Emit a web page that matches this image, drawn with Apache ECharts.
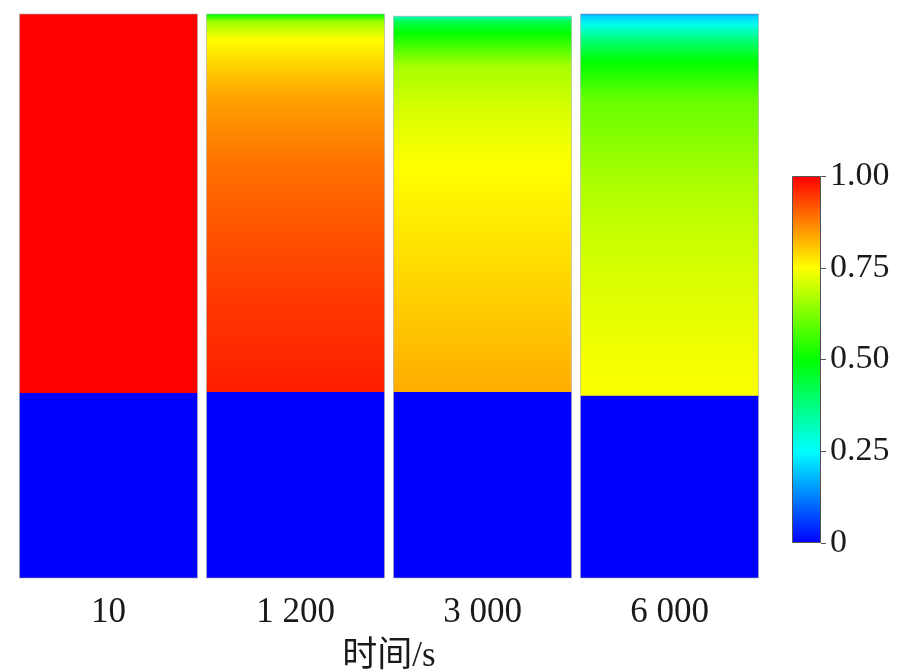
<!DOCTYPE html>
<html>
<head>
<meta charset="utf-8">
<script src="https://cdn.jsdelivr.net/npm/echarts@6/dist/echarts.min.js"></script>
<style>html,body{margin:0;padding:0;background:#fff}#c{width:898px;height:672px}</style>
</head>
<body>
<div id="c"></div>
<script>
// ---- data ----
const timeLabels = ['10', '1 200', '3 000', '6 000'];
const axisName = '时间/s';
// relative height (0 = bottom, 100 = top) of sampled points, top to interface
const col1Heights = [100, 32.8];
const col1Values  = [1.0, 1.0];
const col2Heights = [100, 99.6, 98.6, 95.4, 90.1, 84.8, 72.9, 61.2, 49.3, 34.6, 33.0];
const col2Values  = [0.47, 0.52, 0.65, 0.75, 0.80, 0.843, 0.89, 0.92, 0.945, 0.969, 0.97];
const col3Heights = [99.6, 98.6, 96.6, 90.6, 81.2, 72.9, 55.1, 34.6, 33.0];
const col3Values  = [0.30, 0.42, 0.50, 0.665, 0.72, 0.75, 0.785, 0.827, 0.83];
const col4Heights = [100, 99.6, 98.0, 95.4, 91.5, 84.8, 70.0, 55.1, 37.4, 32.4];
const col4Values  = [0.10, 0.20, 0.27, 0.38, 0.50, 0.60, 0.67, 0.71, 0.74, 0.745];
const lowerValue = 0;   // value in the lower (blue) layer
const scaleTicks = [0, 0.25, 0.5, 0.75, 1.0];

const heights = [col1Heights, col2Heights, col3Heights, col4Heights];
const values = [col1Values, col2Values, col3Values, col4Values];

// rainbow colour map
const cmap = [[0, [0, 0, 255]], [0.25, [0, 255, 255]], [0.5, [0, 255, 0]], [0.75, [255, 255, 0]], [1, [255, 0, 0]]];
function colorOf(v) {
  v = Math.max(0, Math.min(1, v));
  for (let i = 1; i < cmap.length; i++) {
    if (v <= cmap[i][0]) {
      const a = cmap[i - 1], b = cmap[i];
      const t = (v - a[0]) / (b[0] - a[0]);
      const c = a[1].map((x, k) => Math.round(x + (b[1][k] - x) * t));
      return 'rgb(' + c.join(',') + ')';
    }
  }
  return 'rgb(255,0,0)';
}

const FONT = '"Liberation Serif", "Times New Roman", "Noto Sans CJK SC", serif';
const chart = echarts.init(document.getElementById('c'));

chart.setOption({
  backgroundColor: '#fff',
  animation: false,
  grid: [
    { left: 15, right: 135, top: 14, bottom: 94, outerBoundsMode: 'none', containLabel: false },
    { left: 792, width: 29, top: 176, height: 367, outerBoundsMode: 'none', containLabel: false }
  ],
  xAxis: [
    {
      gridIndex: 0, type: 'category', data: timeLabels,
      axisLine: { show: false }, axisTick: { show: false },
      axisLabel: { fontFamily: FONT, fontSize: 35, color: '#1a1a1a', margin: 17 },
      name: axisName, nameLocation: 'middle', nameGap: 61,
      nameTextStyle: { fontFamily: FONT, fontSize: 35, color: '#1a1a1a' }
    },
    { gridIndex: 1, type: 'category', data: ['s'], show: false }
  ],
  yAxis: [
    { gridIndex: 0, type: 'value', min: 0, max: 100, show: false },
    {
      gridIndex: 1, type: 'value', min: 0, max: 1, interval: 0.25, position: 'right',
      axisLine: { show: false },
      axisTick: { show: true, length: 5, lineStyle: { color: '#555' } },
      splitLine: { show: false },
      axisLabel: {
        fontFamily: FONT, fontSize: 34, color: '#1a1a1a', margin: 9,
        formatter: v => (v === 0 ? '0' : v.toFixed(2))
      }
    }
  ],
  series: [
    {
      type: 'custom',
      xAxisIndex: 0, yAxisIndex: 0,
      data: timeLabels.map((t, i) => [i, heights[i][0]]),
      renderItem: function (params, api) {
        const i = params.dataIndex;
        const hs = heights[i], vs = values[i];
        const top = api.coord([i, hs[0]]);
        const bot = api.coord([i, 0]);
        const w = api.size([1, 0])[0] - 9;
        const stops = [];
        for (let k = 0; k < hs.length; k++) {
          stops.push({ offset: (hs[0] - hs[k]) / hs[0], color: colorOf(vs[k]) });
        }
        const hInt = hs[hs.length - 1];
        stops.push({ offset: (hs[0] - hInt) / hs[0] + 0.0005, color: colorOf(lowerValue) });
        stops.push({ offset: 1, color: colorOf(lowerValue) });
        return {
          type: 'rect',
          shape: { x: top[0] - w / 2, y: top[1], width: w, height: bot[1] - top[1] },
          style: {
            fill: new echarts.graphic.LinearGradient(0, 0, 0, 1, stops),
            stroke: 'rgba(170,170,170,0.6)', lineWidth: 1
          }
        };
      }
    },
    {
      type: 'bar', xAxisIndex: 1, yAxisIndex: 1, barWidth: '100%',
      data: [1],
      itemStyle: {
        color: new echarts.graphic.LinearGradient(0, 0, 0, 1,
          scaleTicks.slice().reverse().map((v, k) => ({ offset: k / (scaleTicks.length - 1), color: colorOf(v) }))),
        borderColor: '#555', borderWidth: 1
      }
    }
  ]
});
</script>
</body>
</html>
